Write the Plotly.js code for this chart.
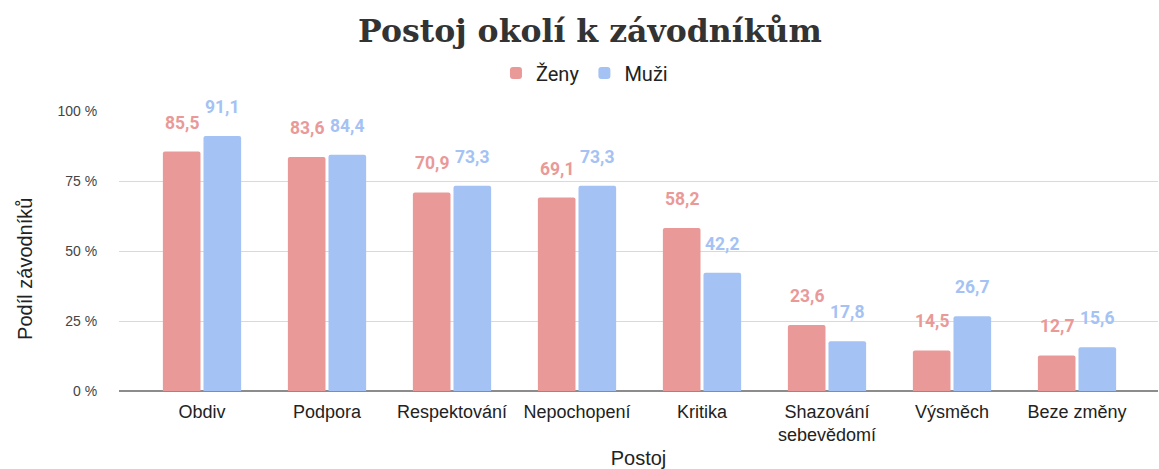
<!DOCTYPE html>
<html>
<head>
<meta charset="utf-8">
<script src="https://cdn.plot.ly/plotly-3.0.1.min.js"></script>
<style>html,body{margin:0;padding:0;background:#fff;}#chart{width:1159px;height:469px;}</style>
</head>
<body>
<div id="chart"></div>
<script>
const categories = ["Obdiv", "Podpora", "Respektování", "Nepochopení", "Kritika", "Shazování<br>sebevědomí", "Výsměch", "Beze změny"];
const zeny = [85.5, 83.6, 70.9, 69.1, 58.2, 23.6, 14.5, 12.7];
const muzi = [91.1, 84.4, 73.3, 73.3, 42.2, 17.8, 26.7, 15.6];
const yTicks = [0, 25, 50, 75, 100];
const seriesNames = ["Ženy", "Muži"];

const pink = "#ea9999";
const blue = "#a4c2f4";
const fmt = v => v.toFixed(1).replace(".", ",");

const traces = [
  {type: "bar", name: seriesNames[0], x: categories, y: zeny, marker: {color: pink, cornerradius: 2}, hoverinfo: "none"},
  {type: "bar", name: seriesNames[1], x: categories, y: muzi, marker: {color: blue, cornerradius: 2}, hoverinfo: "none"}
];

const annotations = [];
[[zeny, pink, -20.3], [muzi, blue, 20.3]].forEach(([vals, col, dx]) => {
  vals.forEach((v, i) => {
    annotations.push({
      x: categories[i], y: v, xref: "x", yref: "y",
      text: fmt(v), showarrow: false, xshift: dx, yshift: 17, yanchor: "bottom",
      font: {family: "Roboto", size: 17.5, color: col, weight: "bold"}
    });
  });
});
annotations.push({
  text: "Podíl závodníků", xref: "paper", yref: "paper", x: -0.0905, y: 0.436,
  xanchor: "center", yanchor: "middle", textangle: -90, showarrow: false,
  font: {family: "Liberation Sans", size: 20, color: "#222"}
});

const layout = {
  width: 1159, height: 469,
  margin: {l: 119, r: 1, t: 111, b: 78},
  paper_bgcolor: "#fff", plot_bgcolor: "#fff",
  title: {text: "<b>Postoj okolí k závodníkům</b>", x: 0.509, xanchor: "center", y: 0.935, yanchor: "middle", yref: "container",
          font: {family: "DejaVu Serif", size: 31.5, color: "#333333"}},
  barmode: "group", bargap: 0.35, bargroupgap: 0.074,
  showlegend: true,
  legend: {orientation: "h", x: 0.448, xanchor: "center", y: 1.136, yanchor: "middle",
           font: {family: "Roboto", size: 20, color: "#222"}, itemwidth: 30, tracegroupgap: 0},
  xaxis: {
    type: "category", range: [-0.664, 7.648],
    showgrid: false, showline: false, zeroline: false,
    ticks: "outside", ticklen: 4, tickcolor: "rgba(0,0,0,0)",
    tickfont: {family: "Liberation Sans", size: 18, color: "#222"},
    title: {text: "Postoj", font: {family: "Liberation Sans", size: 20, color: "#222"}, standoff: 10}
  },
  yaxis: {
    range: [0, 100], tickvals: yTicks, ticktext: yTicks.map(t => t + " %"),
    showgrid: true, gridcolor: "#d9d9d9", gridwidth: 1,
    zeroline: true, zerolinecolor: "#8c8c8c", zerolinewidth: 2,
    showline: false,
    ticks: "outside", ticklen: 18, tickcolor: "rgba(0,0,0,0)",
    tickfont: {family: "Liberation Sans", size: 14, color: "#444"}
  },
  annotations: annotations
};

Plotly.newPlot("chart", traces, layout, {displayModeBar: false, staticPlot: true});
</script>
</body>
</html>
